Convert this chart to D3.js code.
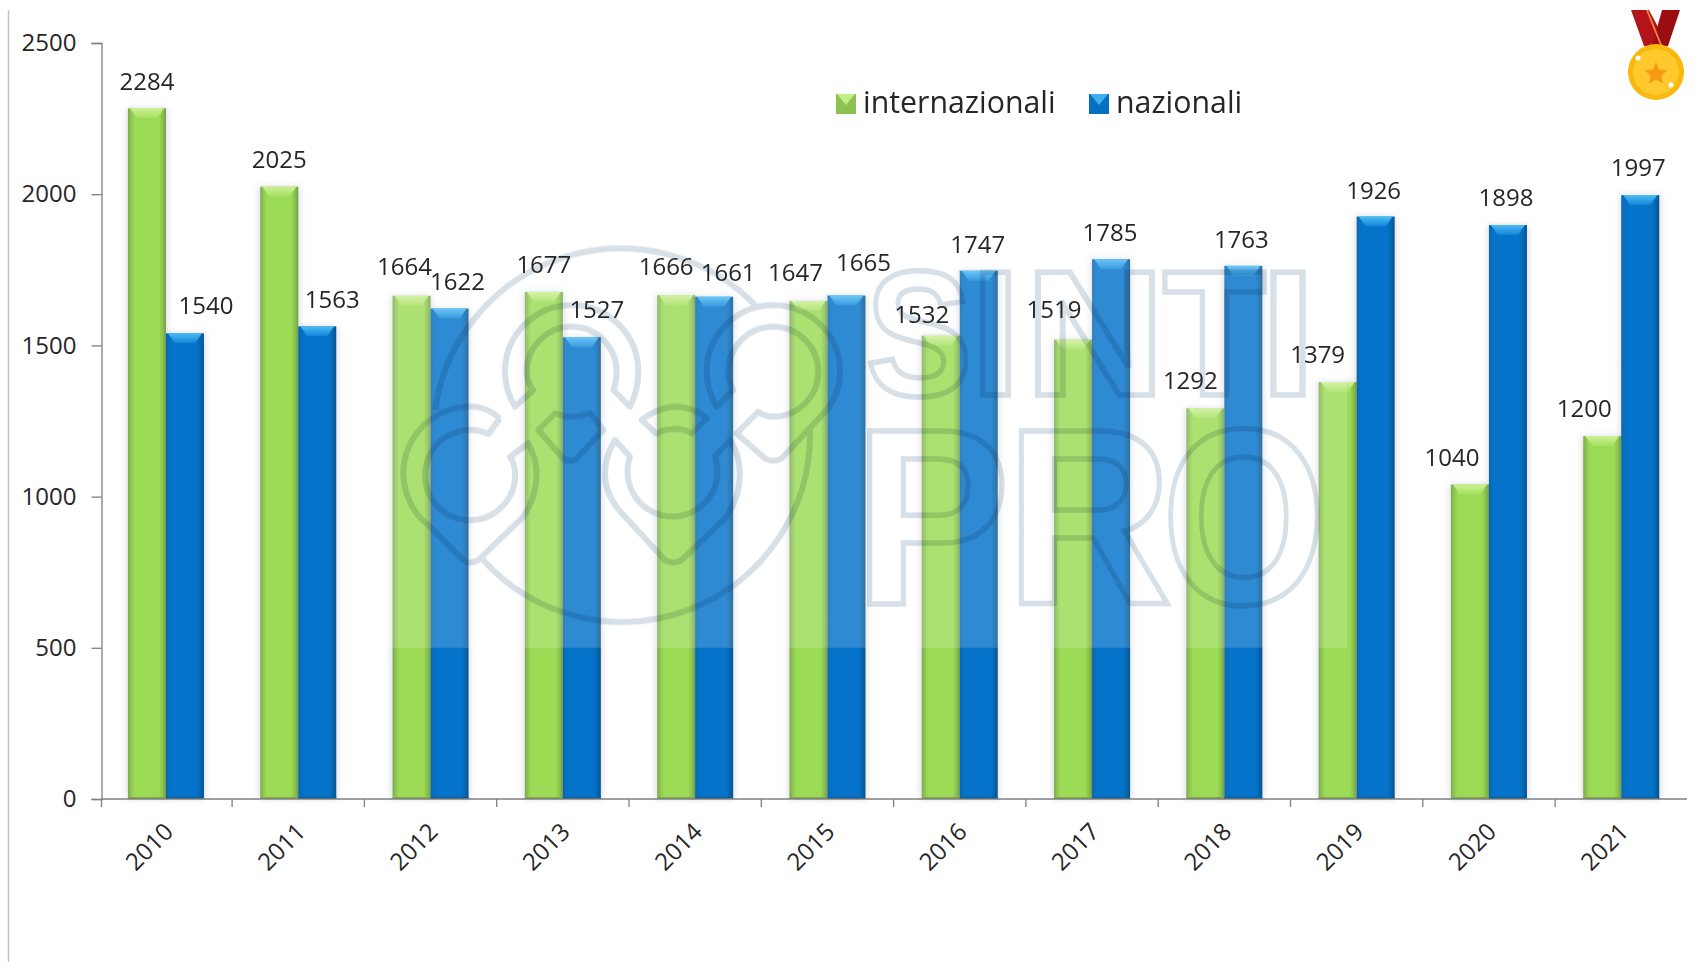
<!DOCTYPE html>
<html><head><meta charset="utf-8">
<script src="https://cdn.jsdelivr.net/npm/d3@7"></script>
<style>
html,body{margin:0;padding:0;background:#fff}
svg{display:block}
text{font-family:"Open Sans",sans-serif;fill:#262626}
.axis path,.axis line{stroke:#7f7f7f;stroke-width:1.3}
</style></head><body>
<script>
// data
const years = ["2010","2011","2012","2013","2014","2015","2016","2017","2018","2019","2020","2021"];
const internazionali = [2284,2025,1664,1677,1666,1647,1532,1519,1292,1379,1040,1200];
const nazionali = [1540,1563,1622,1527,1661,1665,1747,1785,1763,1926,1898,1997];
const yTicks = [0,500,1000,1500,2000,2500];
const seriesNames = ["internazionali","nazionali"];
// label nudges (the source chart has hand-moved labels): offset from bar top-centre
const greenLabelDx = [0,0,-7,0,-10,-13,-19,-19,-15,-20,-18,-18];
const greenLabelDy = [-28,-28,-30,-28,-30,-29,-22,-31,-29,-28,-28,-29];
const blueLabelDx = [21,15,8,15,14,17,-1,-1,-2,-2,-2,-2];
const blueLabelDy = [-29,-28,-28,-29,-25,-34,-27,-28,-27,-27,-29,-29];

const W=1694,H=962;
const svg=d3.select("body").append("svg").attr("width",W).attr("height",H);
const x=d3.scaleBand().domain(years).range([99.8,1687.4]);
const y=d3.scaleLinear().domain([0,2500]).range([799,43]);
const barW=38;

const defs=svg.append("defs");
function grad(id,stops,vertical){
  const g=defs.append("linearGradient").attr("id",id);
  if(vertical) g.attr("x1",0).attr("x2",0).attr("y1",0).attr("y2",1);
  stops.forEach(s=>g.append("stop").attr("offset",s[0]).attr("stop-color",s[1]));
}
grad("gGreen",[[0,"#7da84f"],[0.07,"#8cc24f"],[0.17,"#9bdb55"],[0.82,"#9bdb55"],[0.93,"#86bd4c"],[1,"#6f9c44"]]);
grad("gBlue",[[0,"#0b63a8"],[0.07,"#0670c2"],[0.17,"#0473c9"],[0.82,"#0473c9"],[0.93,"#0662a8"],[1,"#0a5288"]]);
grad("tGreen",[[0,"#cdf096"],[1,"#a4e05f"]],true);
grad("tBlue",[[0,"#4cbcf6"],[1,"#1284d6"]],true);
defs.append("filter").attr("id","soft").attr("x","-30%").attr("width","160%").attr("y","-5%").attr("height","110%")
  .append("feGaussianBlur").attr("stdDeviation",3);

// page rule
svg.append("line").attr("x1",8.5).attr("x2",8.5).attr("y1",10).attr("y2",H).attr("stroke","#c4c4c4").attr("stroke-width",1.5);

const groups=[
 {vals:internazionali,off:-barW,fill:"url(#gGreen)",top:"url(#tGreen)",base:"#7fa94a"},
 {vals:nazionali,off:0,fill:"url(#gBlue)",top:"url(#tBlue)",base:"#0a5c99"}
];
const center=yr=>x(yr)+x.bandwidth()/2;

// halo
groups.forEach(s=>{
  svg.append("g").attr("filter","url(#soft)").selectAll("rect").data(years).join("rect")
   .attr("x",d=>center(d)+s.off-1).attr("width",barW+2)
   .attr("y",(d,i)=>y(s.vals[i])).attr("height",(d,i)=>y(0)-y(s.vals[i]))
   .attr("fill","#8c93a8").attr("opacity",.35);
});
// bars
groups.forEach(s=>{
  const g=svg.append("g");
  g.selectAll("rect.b").data(years).join("rect").attr("class","b")
   .attr("x",d=>center(d)+s.off).attr("width",barW)
   .attr("y",(d,i)=>y(s.vals[i])).attr("height",(d,i)=>y(0)-y(s.vals[i]))
   .attr("fill",s.fill);
  g.selectAll("polygon").data(years).join("polygon")
   .attr("points",(d,i)=>{
     const a=center(d)+s.off,b=a+barW,t=y(s.vals[i]);
     return [[a+2,t],[b-2,t],[b-9,t+10],[a+9,t+10]].join(" ");
   }).attr("fill",s.top);
  g.selectAll("rect.e").data(years).join("rect").attr("class","e")
   .attr("x",d=>center(d)+s.off).attr("width",barW)
   .attr("y",y(0)-2).attr("height",2).attr("fill",s.base);
});

// axes
const yAxis=d3.axisLeft(y).tickValues(yTicks).tickFormat(d3.format("d")).tickSize(10).tickPadding(15);
const yG=svg.append("g").attr("class","axis").attr("transform","translate(101.5,0)").call(yAxis);
yG.selectAll("text").style("font-size","24px");

svg.append("line").attr("x1",101.5).attr("x2",1687).attr("y1",y(0)).attr("y2",y(0)).attr("stroke","#7f7f7f").attr("stroke-width",1.3);
svg.append("g").selectAll("line").data(years).join("line")
  .attr("x1",(d,i)=>i?x(d):101.5).attr("x2",(d,i)=>i?x(d):101.5).attr("y1",y(0)).attr("y2",y(0)+8)
  .attr("stroke","#7f7f7f").attr("stroke-width",1.3);
svg.append("g").selectAll("text").data(years).join("text")
  .attr("transform",d=>`translate(${center(d)-17.5},846) rotate(-45)`)
  .attr("text-anchor","middle").attr("dominant-baseline","central")
  .style("font-size","24px").text(d=>d);

// data labels
function labels(vals,off,dx,dy){
  svg.append("g").selectAll("text").data(vals).join("text")
   .attr("x",(v,i)=>center(years[i])+off+barW/2+dx[i])
   .attr("y",(v,i)=>y(v)+dy[i])
   .attr("text-anchor","middle").attr("dominant-baseline","central")
   .style("font-size","24px").text(v=>v);
}

// watermark: whitening panel + outlined logo and letters
svg.append("rect").attr("x",390).attr("y",245).attr("width",957).attr("height",y(500)-245).attr("fill","#fff").attr("opacity",.17);
const wm=svg.append("g").style("mix-blend-mode","multiply");
const logo=wm.append("g").attr("transform","translate(400,230) scale(0.33333)")
  .attr("fill","none").attr("stroke","#d7e0e7").attr("stroke-width",18).attr("stroke-linejoin","round");
[
"M300 565 L265 612 A135 135 0 1 0 345 730 Q345 700 330 680 L385 640 Q410 690 410 730 Q410 800 370 860 L235 990 Q210 1005 190 990 L90 890 A200 200 0 0 1 215 530 Q260 530 300 565",
"M345 530 Q315 480 315 425 A200 200 0 0 1 715 425 Q715 480 690 530 L640 480 Q650 455 650 425 A135 135 0 0 0 380 425 Q380 455 400 480 Z",
"M415 600 L465 550 Q515 570 570 550 L610 600 L530 685 Q510 700 490 685 Z",
"M725 570 Q770 535 820 530 Q880 530 920 565 L875 610 Q850 595 815 597 Q790 597 770 612 Z",
"M645 630 L690 680 A135 135 0 1 0 945 680 L990 630 Q1020 680 1020 730 Q1020 800 980 860 L845 990 Q820 1005 795 990 L675 860 Q615 800 615 730 Q615 680 645 630 Z",
"M950 530 Q920 480 920 425 A200 200 0 0 1 1320 425 Q1320 490 1280 540 L1145 685 Q1120 700 1095 685 L1010 610 L1075 545 Q1095 560 1120 560 A135 135 0 0 0 1120 290 A135 135 0 0 0 985 425 Q985 455 1000 480 Z",
"M105 540 A563 563 0 0 1 1075 235",
"M245 985 A563 563 0 0 0 1230 600"
].forEach(d=>logo.append("path").attr("d",d));
const lettersTop=[["S",866,106],["I",971,49],["N",1025,140],["T",1163,103],["I",1260,56]];
const lettersBot=[["P",854,156],["R",1006,166],["O",1162,164]];
function wmLetters(list,base,size){
  wm.append("g").selectAll("text").data(list).join("text")
   .attr("x",d=>d[1]).attr("y",base).attr("textLength",d=>d[2]).attr("lengthAdjust","spacingAndGlyphs")
   .style("font-family","'Liberation Sans',sans-serif").style("font-weight",700).style("font-size",size+"px")
   .style("fill","none").style("stroke","#d7e0e7").style("stroke-width","5.5px").text(d=>d[0]);
}
wmLetters(lettersTop,395,178);
wmLetters(lettersBot,604,250);

labels(internazionali,-barW,greenLabelDx,greenLabelDy);
labels(nazionali,0,blueLabelDx,blueLabelDy);

// legend
const leg=[{x:836,tx:863,top:"#c4ec88",side:"#8cc24f"},{x:1089,tx:1116,top:"#3fb1f1",side:"#0670c2"}];
leg.forEach((l,i)=>{
  const g=svg.append("g");
  g.append("rect").attr("x",l.x).attr("y",94).attr("width",20).attr("height",20).attr("fill",l.side);
  g.append("polygon").attr("points",[[l.x+1,94],[l.x+19,94],[l.x+10,105]].join(" ")).attr("fill",l.top);
  g.append("text").attr("x",l.tx).attr("y",113).style("font-size","30.3px").text(seriesNames[i]);
});

// medal
const medal=svg.append("g");
medal.append("polygon").attr("points","1631,10 1649,10 1668,46 1644,46").attr("fill","#b3141a");
medal.append("polygon").attr("points","1662,10 1680,10 1668,46 1652,46").attr("fill","#9c0d12");
medal.append("polygon").attr("points","1646,10 1648,10 1662,45 1660,45").attr("fill","#e8843c");
medal.append("circle").attr("cx",1656).attr("cy",72).attr("r",28).attr("fill","#f9b80d");
medal.append("circle").attr("cx",1656).attr("cy",72).attr("r",23).attr("fill","#fdc92d");
const star=d3.range(10).map(i=>{const r=i%2?5.5:12,a=-Math.PI/2+i*Math.PI/5;return [1656+r*Math.cos(a),74+r*Math.sin(a)]});
medal.append("polygon").attr("points",star.join(" ")).attr("fill","#f59a12");
medal.append("circle").attr("cx",1638).attr("cy",58).attr("r",2.5).attr("fill","#fff");
medal.append("circle").attr("cx",1671).attr("cy",85).attr("r",2.5).attr("fill","#fff");
</script>
</body></html>
